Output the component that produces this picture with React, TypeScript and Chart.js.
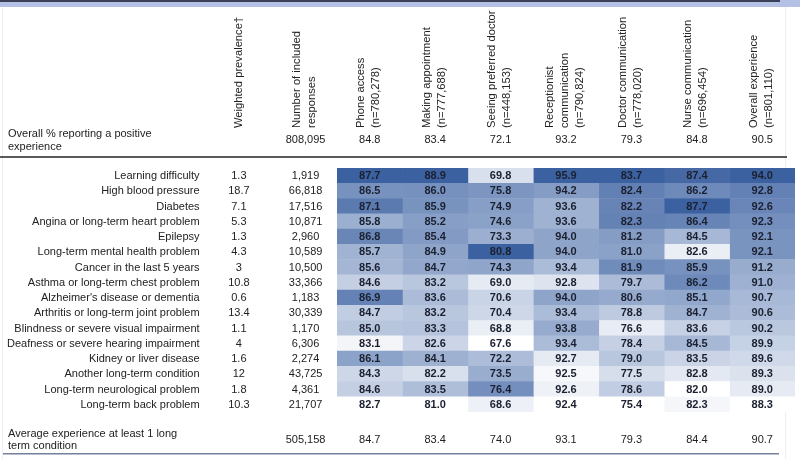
import React, { useEffect, useRef } from "react";
import { Chart, registerables } from "chart.js";

Chart.register(...registerables);

// ---------- DATA ----------
const conditions = [
  "Learning difficulty",
  "High blood pressure",
  "Diabetes",
  "Angina or long-term heart problem",
  "Epilepsy",
  "Long-term mental health problem",
  "Cancer in the last 5 years",
  "Asthma or long-term chest problem",
  "Alzheimer's disease or dementia",
  "Arthritis or long-term joint problem",
  "Blindness or severe visual impairment",
  "Deafness or severe hearing impairment",
  "Kidney or liver disease",
  "Another long-term condition",
  "Long-term neurological problem",
  "Long-term back problem",
];
const prevalence = [1.3, 18.7, 7.1, 5.3, 1.3, 4.3, 3, 10.8, 0.6, 13.4, 1.1, 4, 1.6, 12, 1.8, 10.3];
const responses = [1919, 66818, 17516, 10871, 2960, 10589, 10500, 33366, 1183, 30339, 1170, 6306, 2274, 43725, 4361, 21707];

const phoneAccess = [87.7, 86.5, 87.1, 85.8, 86.8, 85.7, 85.6, 84.6, 86.9, 84.7, 85.0, 83.1, 86.1, 84.3, 84.6, 82.7];
const makingAppointment = [88.9, 86.0, 85.9, 85.2, 85.4, 84.9, 84.7, 83.2, 83.6, 83.2, 83.3, 82.6, 84.1, 82.2, 83.5, 81.0];
const seeingPreferred = [69.8, 75.8, 74.9, 74.6, 73.3, 80.8, 74.3, 69.0, 70.6, 70.4, 68.8, 67.6, 72.2, 73.5, 76.4, 68.6];
const receptionistComm = [95.9, 94.2, 93.6, 93.6, 94.0, 94.0, 93.4, 92.8, 94.0, 93.4, 93.8, 93.4, 92.7, 92.5, 92.6, 92.4];
const doctorComm = [83.7, 82.4, 82.2, 82.3, 81.2, 81.0, 81.9, 79.7, 80.6, 78.8, 76.6, 78.4, 79.0, 77.5, 78.6, 75.4];
const nurseComm = [87.4, 86.2, 87.7, 86.4, 84.5, 82.6, 85.9, 86.2, 85.1, 84.7, 83.6, 84.5, 83.5, 82.8, 82.0, 82.3];
const overallExperience = [94.0, 92.8, 92.6, 92.3, 92.1, 92.1, 91.2, 91.0, 90.7, 90.6, 90.2, 89.9, 89.6, 89.3, 89.0, 88.3];

const measureHeaders = [
  ["Phone access", "(n=780,278)"],
  ["Making appointment", "(n=777,688)"],
  ["Seeing preferred doctor", "(n=448,153)"],
  ["Receptionist", "communication", "(n=790,824)"],
  ["Doctor communication", "(n=778,020)"],
  ["Nurse communication", "(n=696,454)"],
  ["Overall experience", "(n=801,110)"],
];
const prevalenceHeader = ["Weighted prevalence\u2020"];
const responsesHeader = ["Number of included", "responses"];

const overallLabel = ["Overall % reporting a positive", "experience"];
const overallResponses = 808095;
const overallPositive = [84.8, 83.4, 72.1, 93.2, 79.3, 84.8, 90.5];

const averageLabel = ["Average experience at least 1 long", "term condition"];
const averageResponses = 505158;
const averagePositive = [84.7, 83.4, 74.0, 93.1, 79.3, 84.4, 90.7];

const measureValues = [
  phoneAccess,
  makingAppointment,
  seeingPreferred,
  receptionistComm,
  doctorComm,
  nurseComm,
  overallExperience,
];

// ---------- STYLE ----------
const FONT = "'Liberation Sans', Arial, sans-serif";
const WHITE = [255, 255, 255];
const MID = [163, 181, 212];
const DARK = [60, 97, 161];

function quantile(sorted: number[], q: number) {
  const pos = (sorted.length - 1) * q;
  const lo = Math.floor(pos);
  const hi = Math.ceil(pos);
  return sorted[lo] + (sorted[hi] - sorted[lo]) * (pos - lo);
}
function mix(a: number[], b: number[], t: number) {
  const c = a.map((v, i) => Math.round(v + (b[i] - v) * t));
  return `rgb(${c[0]},${c[1]},${c[2]})`;
}
function colorFor(v: number, arr: number[]) {
  const s = [...arr].sort((a, b) => a - b);
  const min = s[0];
  const max = s[s.length - 1];
  const mid = quantile(s, 0.5);
  if (v <= mid) return mix(WHITE, MID, mid === min ? 1 : (v - min) / (mid - min));
  return mix(MID, DARK, (v - mid) / (max - mid));
}

const fmtInt = (n: number) => n.toLocaleString("en-US");

const tablePlugin = {
  id: "tableText",
  beforeDraw(chart: any) {
    const ctx = chart.ctx;
    const area = chart.chartArea;
    ctx.save();
    // top band
    ctx.fillStyle = "#b4c0e4";
    ctx.fillRect(0, 0, chart.width, 7);
    ctx.fillStyle = "#3a4056";
    ctx.fillRect(0, 0, 780, 2);
    // faint frame sides
    ctx.fillStyle = "#eceef4";
    ctx.fillRect(2, 7, 1, area.bottom + 40);
    ctx.fillRect(785, 7, 1, area.bottom + 40);
    // header separator
    ctx.fillStyle = "#5a5a5a";
    ctx.fillRect(0, area.top - 12, 787, 2);
    // bottom rule
    ctx.fillStyle = "#75809c";
    ctx.fillRect(3, area.bottom + 41, 776, 1.5);
    ctx.restore();
  },
  afterDatasetsDraw(chart: any) {
    const ctx = chart.ctx;
    const xs = chart.scales.x;
    const ys = chart.scales.y;
    const area = chart.chartArea;
    ctx.save();
    ctx.textBaseline = "middle";

    // cell values
    ctx.font = `bold 11px ${FONT}`;
    ctx.fillStyle = "#1b2030";
    ctx.textAlign = "center";
    chart.data.datasets.forEach((_ds: any, k: number) => {
      const meta = chart.getDatasetMeta(k);
      meta.data.forEach((el: any, i: number) => {
        const p = el.getProps(["x", "y", "base"], true);
        ctx.fillText(measureValues[k][i].toFixed(1), (p.x + p.base) / 2, p.y + 0.5);
      });
    });

    // row labels, prevalence, responses
    ctx.font = `11px ${FONT}`;
    ctx.fillStyle = "#222";
    const labelX = xs.getPixelForValue(-2.1);
    const prevX = xs.getPixelForValue(-1.5);
    const respX = xs.getPixelForValue(-0.48);
    conditions.forEach((c, i) => {
      const y = ys.getPixelForValue(i) + 0.5;
      ctx.textAlign = "right";
      ctx.fillText(c, labelX, y);
      ctx.textAlign = "center";
      ctx.fillText(String(prevalence[i]), prevX, y);
      ctx.fillText(fmtInt(responses[i]), respX, y);
    });

    // rotated headers
    const headerBase = area.top - 40;
    ctx.font = `11.2px ${FONT}`;
    const drawRot = (lines: string[], cx: number) => {
      const n = lines.length;
      lines.forEach((ln, j) => {
        const off = (j - (n - 1) / 2) * 15 - 1;
        ctx.save();
        ctx.translate(cx + off, headerBase);
        ctx.rotate(-Math.PI / 2);
        ctx.textAlign = "left";
        ctx.textBaseline = "middle";
        ctx.fillText(ln, 0, 0);
        ctx.restore();
      });
    };
    drawRot(prevalenceHeader, prevX + 1);
    drawRot(responsesHeader, respX);
    measureHeaders.forEach((lines, k) => drawRot(lines, xs.getPixelForValue(k + 0.5)));

    // overall row
    ctx.font = `11px ${FONT}`;
    const leftX = 8;
    ctx.textAlign = "left";
    ctx.fillText(overallLabel[0], leftX, area.top - 34);
    ctx.fillText(overallLabel[1], leftX, area.top - 21);
    ctx.textAlign = "center";
    const ovY = area.top - 28;
    ctx.fillText(fmtInt(overallResponses), respX, ovY);
    overallPositive.forEach((v, k) => ctx.fillText(v.toFixed(1), xs.getPixelForValue(k + 0.5), ovY));

    // average row
    ctx.textAlign = "left";
    ctx.fillText(averageLabel[0], leftX, area.bottom + 22);
    ctx.fillText(averageLabel[1], leftX, area.bottom + 34);
    ctx.textAlign = "center";
    const avY = area.bottom + 28;
    ctx.fillText(fmtInt(averageResponses), respX, avY);
    averagePositive.forEach((v, k) => ctx.fillText(v.toFixed(1), xs.getPixelForValue(k + 0.5), avY));

    ctx.restore();
  },
};

export default function App() {
  const ref = useRef<HTMLCanvasElement | null>(null);
  useEffect(() => {
    document.body.style.margin = "0";
    if (!ref.current) return;
    const chart = new Chart(ref.current, {
      type: "bar",
      data: {
        labels: conditions,
        datasets: measureValues.map((vals, k) => ({
          label: measureHeaders[k].join(" "),
          data: vals.map(() => [k, k + 1]) as any,
          backgroundColor: vals.map((v) => colorFor(v, vals)),
          borderWidth: 0,
          barPercentage: 1,
          categoryPercentage: 1,
          grouped: false,
        })),
      },
      options: {
        indexAxis: "y",
        animation: false,
        responsive: false,
        devicePixelRatio: 1,
        events: [],
        layout: { padding: { left: 337, right: 5, top: 168, bottom: 52 } },
        scales: {
          x: { type: "linear", min: 0, max: 7, display: false },
          y: { type: "category", display: false, offset: true },
        },
        plugins: {
          legend: { display: false },
          tooltip: { enabled: false },
          title: { display: false },
        },
      },
      plugins: [tablePlugin],
    } as any);
    return () => chart.destroy();
  }, []);
  return (
    <div style={{ position: "absolute", left: 0, top: 0, width: 800, height: 464, background: "#fff" }}>
      <canvas ref={ref} width={800} height={464} style={{ display: "block" }} />
    </div>
  );
}
